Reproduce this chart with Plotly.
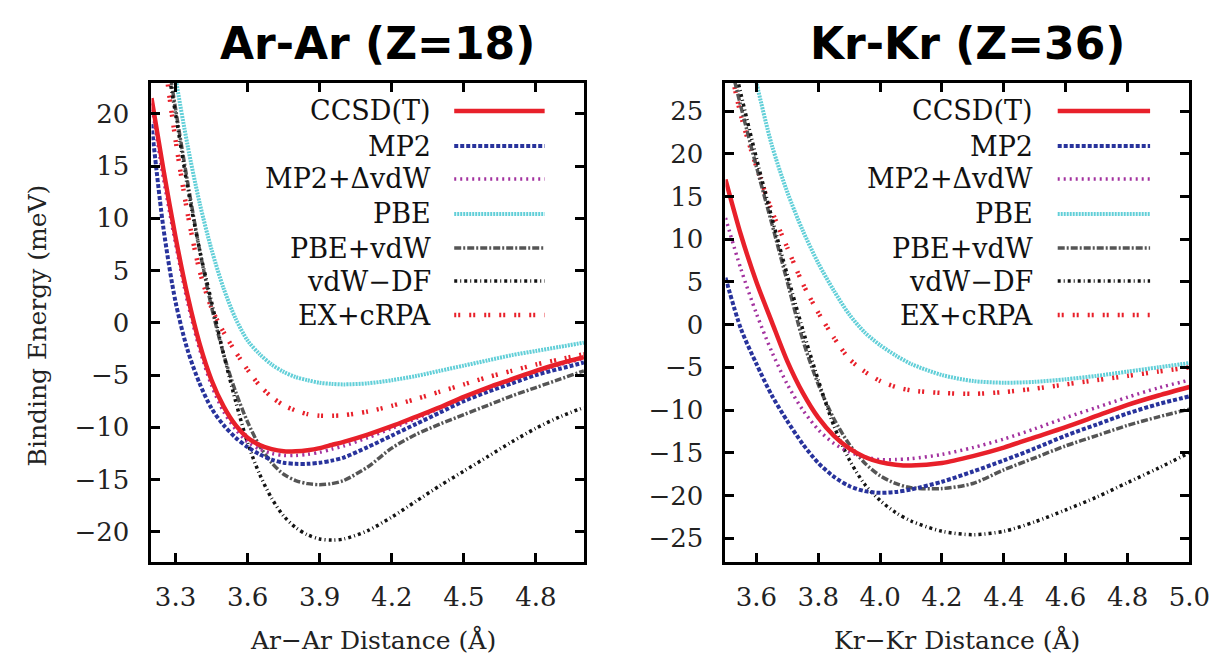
import plotly.graph_objects as go

# ---------------- data ----------------
ar_x = [3.20, 3.25, 3.30, 3.35, 3.40, 3.45, 3.50, 3.55, 3.60, 3.65, 3.70, 3.75, 3.80, 3.85,
        3.90, 3.95, 4.00, 4.10, 4.20, 4.30, 4.40, 4.50, 4.60, 4.70, 4.80, 4.90, 5.00]
ar_ccsdt = [21.5, 14.6, 8.2, 2.6, -2.0, -5.5, -8.0, -9.8, -11.0, -11.7, -12.1, -12.3, -12.3, -12.2,
            -12.0, -11.7, -11.4, -10.7, -9.9, -9.0, -8.1, -7.1, -6.2, -5.4, -4.6, -3.9, -3.3]
ar_mp2 = [19.0, 9.0, 2.0, -2.6, -5.8, -8.2, -9.8, -11.0, -11.9, -12.6, -13.1, -13.4, -13.5, -13.5,
          -13.4, -13.2, -12.9, -11.9, -10.8, -9.7, -8.6, -7.5, -6.6, -5.8, -5.0, -4.4, -3.8]
ar_mp2vdw = [21.0, 13.8, 7.6, 2.0, -2.5, -6.0, -8.5, -10.2, -11.4, -12.1, -12.5, -12.7, -12.7, -12.6,
             -12.4, -12.1, -11.8, -11.0, -10.1, -9.2, -8.2, -7.2, -6.3, -5.5, -4.7, -4.0, -3.4]
ar_pbe = [42.0, 31.5, 23.5, 17.0, 11.5, 7.0, 3.3, 0.4, -1.7, -3.0, -4.0, -4.7, -5.2, -5.5,
          -5.75, -5.85, -5.9, -5.8, -5.5, -5.1, -4.6, -4.1, -3.6, -3.1, -2.7, -2.3, -1.9]
ar_pbevdw = [37.0, 28.0, 20.5, 13.5, 7.0, 1.5, -3.0, -6.6, -9.5, -11.8, -13.4, -14.5, -15.1, -15.4,
             -15.5, -15.4, -15.1, -13.8, -12.0, -10.7, -9.7, -8.8, -7.9, -7.0, -6.2, -5.4, -4.6]
ar_vdwdf = [35.0, 27.0, 20.0, 13.0, 7.0, 2.0, -3.0, -7.5, -11.5, -14.5, -16.8, -18.5, -19.6, -20.3,
            -20.7, -20.8, -20.7, -19.9, -18.6, -17.1, -15.6, -14.2, -12.8, -11.4, -10.1, -9.0, -8.1]
ar_excrpa = [36.0, 26.0, 17.5, 10.5, 5.0, 1.4, -0.9, -2.8, -4.5, -6.0, -7.1, -7.9, -8.4, -8.75,
             -8.9, -8.9, -8.85, -8.5, -7.95, -7.3, -6.6, -5.9, -5.2, -4.6, -4.0, -3.5, -3.0]

kr_x = [3.50, 3.55, 3.60, 3.65, 3.70, 3.75, 3.80, 3.85, 3.90, 3.95, 4.00, 4.05, 4.10,
        4.20, 4.30, 4.40, 4.50, 4.60, 4.70, 4.80, 4.90, 5.00]
kr_ccsdt = [17.0, 10.5, 5.0, 0.3, -4.3, -8.0, -10.9, -13.0, -14.5, -15.5, -16.1, -16.4, -16.5,
            -16.2, -15.4, -14.4, -13.2, -12.0, -10.7, -9.4, -8.3, -7.3]
kr_mp2 = [5.5, -0.5, -4.6, -8.3, -11.3, -14.0, -16.2, -17.8, -18.9, -19.5, -19.7, -19.6, -19.3,
          -18.4, -17.2, -15.9, -14.5, -13.0, -11.7, -10.4, -9.3, -8.4]
kr_mp2vdw = [12.5, 6.5, 1.3, -3.2, -7.0, -10.0, -12.3, -13.9, -14.9, -15.5, -15.8, -15.8, -15.7,
             -15.2, -14.4, -13.4, -12.2, -10.9, -9.7, -8.5, -7.4, -6.5]
kr_pbe = [45.0, 36.0, 28.3, 21.0, 15.5, 11.0, 7.2, 4.0, 1.2, -0.9, -2.4, -3.6, -4.6,
          -5.9, -6.6, -6.8, -6.7, -6.4, -6.0, -5.5, -5.0, -4.5]
kr_pbevdw = [33.0, 25.5, 18.5, 11.8, 5.0, -1.8, -7.0, -11.0, -14.0, -16.2, -17.7, -18.6, -19.1,
             -19.2, -18.6, -17.0, -15.6, -14.2, -13.0, -11.8, -10.8, -9.9]
kr_vdwdf = [35.0, 27.0, 19.5, 12.5, 5.8, -0.6, -6.5, -11.8, -15.8, -18.7, -20.6, -22.0, -23.0,
            -24.2, -24.6, -24.2, -23.1, -21.7, -20.2, -18.5, -16.8, -15.0]
kr_excrpa = [33.0, 24.5, 18.5, 13.3, 9.0, 4.8, 1.4, -1.5, -4.0, -5.5, -6.6, -7.3, -7.7,
             -8.0, -8.1, -7.9, -7.5, -7.0, -6.5, -6.0, -5.5, -5.0]

series_names = ["CCSD(T)", "MP2", "MP2+ΔvdW", "PBE", "PBE+vdW", "vdW−DF", "EX+cRPA"]
ar_values = [ar_ccsdt, ar_mp2, ar_mp2vdw, ar_pbe, ar_pbevdw, ar_vdwdf, ar_excrpa]
kr_values = [kr_ccsdt, kr_mp2, kr_mp2vdw, kr_pbe, kr_pbevdw, kr_vdwdf, kr_excrpa]

ar_xticks = [3.3, 3.6, 3.9, 4.2, 4.5, 4.8]
ar_yticks = [-20, -15, -10, -5, 0, 5, 10, 15, 20]
kr_xticks = [3.6, 3.8, 4.0, 4.2, 4.4, 4.6, 4.8, 5.0]
kr_yticks = [-25, -20, -15, -10, -5, 0, 5, 10, 15, 20, 25]

titles = ["Ar-Ar (Z=18)", "Kr-Kr (Z=36)"]
xlabels = ["Ar−Ar Distance (Å)", "Kr−Kr Distance (Å)"]
ylabel = "Binding Energy (meV)"

# ---------------- styles ----------------
styles = [
    dict(color="#e8202a", width=4.5, dash="solid"),
    dict(color="#28339c", width=4, dash="4px,2px"),
    dict(color="#a3329f", width=3.5, dash="2px,4px"),
    dict(color="#62cfd8", width=4, dash="2px,1px"),
    dict(color="#555555", width=3.5, dash="7px,2px,2px,2px"),
    dict(color="#141414", width=3.5, dash="3px,3px,1px,3px"),
    dict(color="#e8202a", width=4.5, dash="2px,2px,2px,9px"),
]
draw_order = [3, 6, 4, 5, 1, 2, 0]

W, H = 1226, 661
def pxx(p):
    return p / W
def pxy(p):
    return 1 - p / H

fig = go.Figure()

panels = [
    dict(x=ar_x, vals=ar_values, xa="x", ya="y", dom=[pxx(146), pxx(586)]),
    dict(x=kr_x, vals=kr_values, xa="x2", ya="y2", dom=[pxx(730), pxx(1202)]),
]
for p in panels:
    for i in draw_order:
        st = styles[i]
        fig.add_trace(go.Scatter(
            x=p["x"], y=p["vals"][i], mode="lines", name=series_names[i],
            line=dict(color=st["color"], width=st["width"], dash=st["dash"],
                      shape="spline", smoothing=0.8),
            xaxis=p["xa"], yaxis=p["ya"], showlegend=False, hoverinfo="skip"))

SERIF = "DejaVu Serif, Liberation Serif, serif"
tickfont = dict(family=SERIF, size=26, color="#222")
axcommon = dict(showline=True, linecolor="black", linewidth=3, mirror="ticks",
                ticks="inside", ticklen=9, tickwidth=2.5, tickcolor="black",
                showgrid=False, zeroline=False, tickfont=tickfont)
ydom = [pxy(554), pxy(75)]
fig.update_layout(
    width=W, height=H, autosize=False,
    margin=dict(l=0, r=0, t=0, b=0),
    paper_bgcolor="white", plot_bgcolor="white",
    xaxis=dict(domain=panels[0]["dom"], range=[3.2, 5.0], tickvals=ar_xticks,
               ticktext=[f"{v:.1f}" for v in ar_xticks], anchor="y",
               ticklabelstandoff=10, **axcommon),
    yaxis=dict(domain=ydom, range=[-22.9, 22.95], tickvals=ar_yticks, anchor="x",
               ticklabelstandoff=14, **axcommon),
    xaxis2=dict(domain=panels[1]["dom"], range=[3.5, 5.0], tickvals=kr_xticks,
                ticktext=[f"{v:.1f}" for v in kr_xticks], anchor="y2",
                ticklabelstandoff=10, **axcommon),
    yaxis2=dict(domain=ydom, range=[-27.8, 28.3], tickvals=kr_yticks, anchor="x2",
                ticklabelstandoff=14, **axcommon),
)

annotations = []
shapes = []
title_font = dict(family="Comic Sans MS, DejaVu Sans", size=44, color="black", weight="bold")
label_font = dict(family=SERIF, size=25, color="#222")
legend_font = dict(family=SERIF, size=27, color="#111")

title_cx = [376, 976]
xlabel_cx = [371, 966]
legend_text_right = [432, 1045]
legend_line = [(454, 546), (1068, 1162)]
legend_rows = [103, 138, 171, 206, 240, 273, 307]

for k in range(2):
    annotations.append(dict(text=titles[k], x=pxx(title_cx[k]), y=pxy(36), xref="paper", yref="paper",
                            xanchor="center", yanchor="middle", showarrow=False, font=title_font))
    annotations.append(dict(text=xlabels[k], x=pxx(xlabel_cx[k]), y=pxy(632), xref="paper", yref="paper",
                            xanchor="center", yanchor="middle", showarrow=False, font=label_font))
    for i, name in enumerate(series_names):
        yy = pxy(legend_rows[i])
        annotations.append(dict(text=name, x=pxx(legend_text_right[k]), y=yy, xref="paper", yref="paper",
                                xanchor="right", yanchor="middle", showarrow=False, font=legend_font))
        st = styles[i]
        shapes.append(dict(type="line", xref="paper", yref="paper",
                           x0=pxx(legend_line[k][0]), x1=pxx(legend_line[k][1]), y0=yy, y1=yy,
                           line=dict(color=st["color"], width=st["width"], dash=st["dash"])))

annotations.append(dict(text=ylabel, x=pxx(30), y=pxy(317), xref="paper", yref="paper",
                        xanchor="center", yanchor="middle", showarrow=False, textangle=-90,
                        font=label_font))

fig.update_layout(annotations=annotations, shapes=shapes)
fig.write_html("out.html")
